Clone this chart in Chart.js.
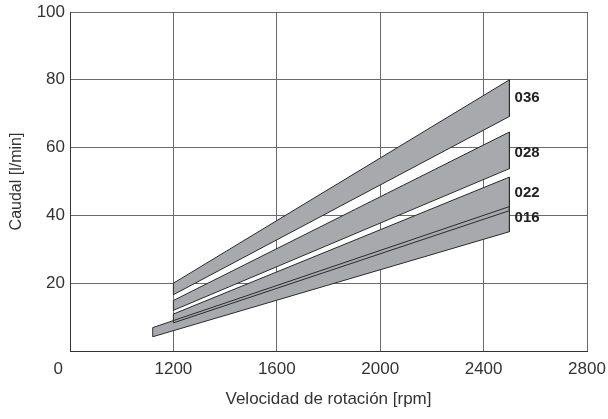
<!DOCTYPE html>
<html>
<head>
<meta charset="utf-8">
<script src="https://cdn.jsdelivr.net/npm/chart.js@4"></script>
<style>
  html, body { margin: 0; padding: 0; background: #fff; }
  #wrap { width: 608px; height: 419px; }
</style>
</head>
<body>
<div id="wrap"><canvas id="flowChart" width="608" height="419"></canvas></div>
<script>
// Pump bands: flow [l/min] vs speed [rpm]
const bandNames = ['036', '028', '022', '016'];
const bandStart = [1200, 1200, 1200, 1120];
const bandEnd = [2500, 2500, 2500, 2500];
const upperStart = [20, 14.9, 10.9, 6.9];
const upperEnd = [80, 64.6, 51.3, 42.6];
const lowerStart = [16.6, 12.0, 8.3, 4.2];
const lowerEnd = [69.2, 53.8, 41.4, 35.2];

// band name labels next to the right end
const labelX = [2520, 2520, 2520, 2520];
const labelY = [74.7, 58.5, 46.7, 39.3];

// axis ticks (left edge of x is labelled 0)
const xTicks = [800, 1200, 1600, 2000, 2400, 2800];
const xTickText = ['0', '1200', '1600', '2000', '2400', '2800'];
const yTicks = [20, 40, 60, 80, 100];

const fontFamily = '"Liberation Sans", Arial, Helvetica, sans-serif';
const bandFill = '#a8a9ac';
const lineColor = '#2b2b2b';

const datasets = [];
bandNames.forEach((name, i) => {
    // upper edge, fill target
    datasets.push({
        label: name + ' max',
        data: [{x: bandStart[i], y: upperStart[i]}, {x: bandEnd[i], y: upperEnd[i]}],
        showLine: true,
        borderWidth: 0,
        pointRadius: 0,
        fill: false
    });
    // lower edge, filled up to the upper edge
    datasets.push({
        label: name + ' min',
        data: [{x: bandStart[i], y: lowerStart[i]}, {x: bandEnd[i], y: lowerEnd[i]}],
        showLine: true,
        borderWidth: 0,
        pointRadius: 0,
        backgroundColor: bandFill,
        fill: '-1'
    });
});
// outlines of each band
bandNames.forEach((name, i) => {
    datasets.push({
        label: name,
        data: [
            {x: bandStart[i], y: upperStart[i]},
            {x: bandEnd[i], y: upperEnd[i]},
            {x: bandEnd[i], y: lowerEnd[i]},
            {x: bandStart[i], y: lowerStart[i]},
            {x: bandStart[i], y: upperStart[i]}
        ],
        showLine: true,
        borderColor: lineColor,
        borderWidth: 1,
        pointRadius: 0,
        fill: false,
        tension: 0
    });
});

const bandLabels = {
    id: 'bandLabels',
    afterDraw(chart) {
        const ctx = chart.ctx;
        const xs = chart.scales.x, ys = chart.scales.y;
        ctx.save();
        ctx.font = 'bold 15px ' + fontFamily;
        ctx.fillStyle = '#222';
        ctx.textAlign = 'left';
        ctx.textBaseline = 'middle';
        bandNames.forEach((name, i) => {
            ctx.fillText(name, xs.getPixelForValue(labelX[i]), ys.getPixelForValue(labelY[i]));
        });
        ctx.restore();
    }
};

const flowChart = new Chart(document.getElementById('flowChart').getContext('2d'), {
    type: 'scatter',
    data: { datasets: datasets },
    plugins: [bandLabels],
    options: {
        responsive: false,
        animation: false,
        layout: { padding: { top: 12, right: 21, left: 0, bottom: 0 } },
        plugins: {
            legend: { display: false },
            tooltip: { enabled: false },
            filler: { drawTime: 'beforeDatasetsDraw' }
        },
        scales: {
            x: {
                type: 'linear',
                min: 800,
                max: 2800,
                z: 1,
                afterBuildTicks: scale => { scale.ticks = xTicks.map(v => ({value: v})); },
                afterFit: scale => {
                    scale.height = 68;
                    scale.paddingLeft = 0;
                    scale.paddingRight = 0;
                },
                ticks: {
                    color: '#333',
                    font: { family: fontFamily, size: 17 },
                    padding: 8,
                    callback: v => {
                        const t = xTickText[xTicks.indexOf(v)];
                        return v === 800 ? t + '     ' : t;
                    }
                },
                grid: { color: '#6a6a6a', lineWidth: 1, drawTicks: false },
                border: { color: '#333', width: 1 },
                title: {
                    display: true,
                    text: 'Velocidad de rotación [rpm]',
                    color: '#333',
                    font: { family: fontFamily, size: 17 },
                    padding: { top: 0, bottom: 9 }
                }
            },
            y: {
                min: 0,
                max: 100,
                z: 1,
                afterBuildTicks: scale => { scale.ticks = [0].concat(yTicks).map(v => ({value: v})); },
                afterFit: scale => {
                    scale.width = 70;
                    scale.paddingTop = 0;
                    scale.paddingBottom = 0;
                },
                ticks: {
                    color: '#333',
                    font: { family: fontFamily, size: 17 },
                    padding: 5,
                    callback: v => yTicks.includes(v) ? String(v) : ''
                },
                grid: { color: '#6a6a6a', lineWidth: 1, drawTicks: false },
                border: { color: '#333', width: 1 },
                title: {
                    display: true,
                    text: 'Caudal [l/min]',
                    color: '#333',
                    font: { family: fontFamily, size: 16 },
                    padding: { top: 7, bottom: 0 }
                }
            }
        }
    }
});
</script>
</body>
</html>
